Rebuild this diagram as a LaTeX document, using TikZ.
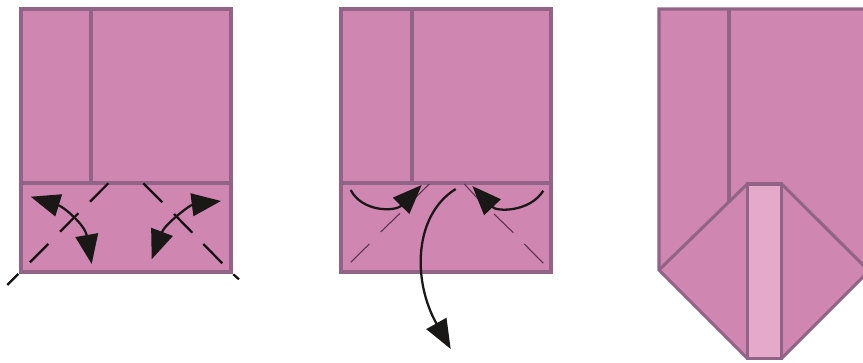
\documentclass[tikz,border=0pt]{standalone}
\usetikzlibrary{arrows.meta}
\tikzset{
 paper/.style={color={rgb, 255:red, 145; green, 100; blue, 135 },line width=2.3pt,fill={rgb, 255:red, 207; green, 134; blue, 176 },line join=miter},
 crease/.style={color={rgb, 255:red, 145; green, 100; blue, 135 },line width=2.3pt},
 foldline/.style={color={rgb, 255:red, 20; green, 16; blue, 18 },line width=1.7pt},
 thinfold/.style={color={rgb, 255:red, 90; green, 50; blue, 80 },line width=0.8pt},
 movearrow/.style={color={rgb, 255:red, 26; green, 23; blue, 23 },line width=1.7pt,>={Triangle[length=22pt,width=17pt]}}
}
\begin{document}
\begin{tikzpicture}[x=0.75pt,y=0.75pt,yscale=-1,xscale=1]
 \useasboundingbox (0,0) rectangle (863,363);

 %Shape: first sheet
 \draw [paper] (21,9) rectangle (231,272);
 \draw [crease] (91,9) -- (91,183);
 \draw [crease] (21,183) -- (231,183);
 %Straight Lines: first sheet folds
 \draw [foldline] (108.3,183.3) -- (90,201.7);
 \draw [foldline] (78.3,213.3) -- (60,231.7);
 \draw [foldline] (48.3,244) -- (30,262.3);
 \draw [foldline] (18.3,274) -- (7.3,285);
 \draw [foldline] (143.3,183.3) -- (162.3,202.3);
 \draw [foldline] (174,214) -- (192.3,232.7);
 \draw [foldline] (203.3,244) -- (222.3,263.3);
 \draw [foldline] (233.3,274.3) -- (239,279.3);
 %Curves: first sheet arrows
 \draw [movearrow,<->] (30.7,196.7) .. controls (64,207) and (85,225) .. (91.7,264);
 \draw [movearrow,<->] (221,201) .. controls (190,205) and (165,224) .. (151.7,259.3);

 %Shape: second sheet
 \draw [paper] (341,9) rectangle (551,272);
 \draw [crease] (412,9) -- (412,183);
 \draw [crease] (341,183) -- (551,183);
 %Straight Lines: second sheet folds
 \draw [thinfold] (429.3,184) -- (412,201);
 \draw [thinfold] (400,213.3) -- (380.7,232);
 \draw [thinfold] (369.3,244) -- (350.7,262.3);
 \draw [thinfold] (464.3,184) -- (480,201);
 \draw [thinfold] (494,214) -- (513.3,232.7);
 \draw [thinfold] (524.3,244) -- (543.3,263.3);
 %Curves: second sheet arrows
 \draw [movearrow,->] (350.7,190) .. controls (362,212) and (395,212) .. (421.7,185);
 \draw [movearrow,->] (543.3,190.7) .. controls (530,212) and (497,212) .. (472.3,186);
 \draw [movearrow,->] (455.7,189) .. controls (414,215) and (412,280) .. (450.7,349);

 %Shape: third sheet
 \draw [paper] (659,9) -- (870,9) -- (870,270) -- (781.7,358.3) -- (747.3,358.3) -- (659,270) -- cycle;
 \draw [crease] (729,9) -- (729,201.6);
 \draw [crease,fill={rgb, 255:red, 207; green, 134; blue, 176 }] (659,270) -- (747.3,184) -- (781.7,184) -- (870,272);
 \draw [paper,fill={rgb, 255:red, 229; green, 169; blue, 204 }] (747.3,184) rectangle (781.7,358.3);
\end{tikzpicture}
\end{document}
